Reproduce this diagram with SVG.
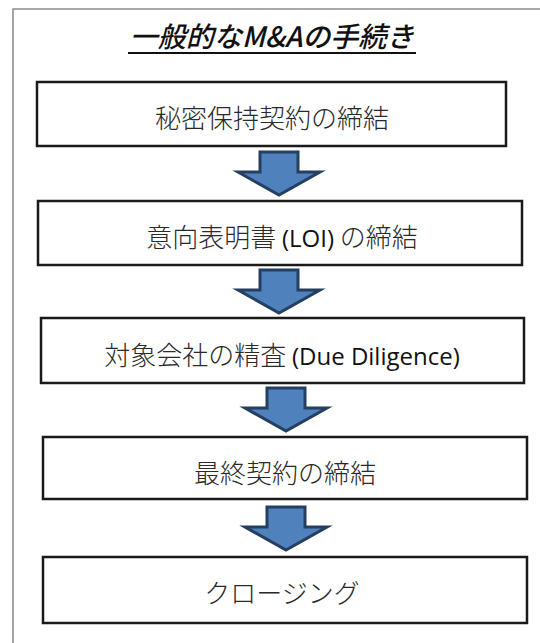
<svg xmlns="http://www.w3.org/2000/svg" width="540" height="643" viewBox="0 0 540 643">
<style>
.frame{fill:#fff;stroke:#8a8a8a;stroke-width:1.5}
.box{fill:#fff;stroke:#1a1a1a;stroke-width:2.5}
.t{font-family:"Noto Sans CJK JP","Noto Sans",sans-serif;font-size:26px;fill:#2a2a2a;text-anchor:middle;font-weight:300}
.lat{font-family:"Open Sans","Noto Sans",sans-serif;font-size:24px;fill:#111;font-weight:500}
.title{font-family:"Noto Sans CJK JP","Noto Sans",sans-serif;font-size:28px;font-style:italic;font-weight:500;fill:#111;text-anchor:middle}
.arrow{fill:#4f81bd;stroke:#243f60;stroke-width:3;stroke-linejoin:miter}
</style>
<defs>
<path id="arr" class="arrow" d="M-19,0 H19 V20 H41 L0,43 L-41,20 H-19 Z"/>
</defs>
<rect class="frame" x="13" y="9" width="540" height="650"/>
<g id="title">
<text class="title" x="272" y="47">一般的なM&amp;Aの手続き</text>
<line x1="128" y1="53" x2="416" y2="53" stroke="#111" stroke-width="2"/>
</g>
<g id="connectors">
<use href="#arr" x="279" y="152"/>
<use href="#arr" x="279" y="270"/>
<use href="#arr" x="286" y="388"/>
<use href="#arr" x="286" y="507"/>
</g>
<g id="n1">
<rect class="box" x="37" y="82" width="469" height="64"/>
<text class="t" x="272" y="128">秘密保持契約の締結</text>
</g>
<g id="n2">
<rect class="box" x="38" y="201" width="484" height="64"/>
<text class="t" x="282" y="247">意向表明書 <tspan class="lat">(LOI)</tspan> の締結</text>
</g>
<g id="n3">
<rect class="box" x="41" y="318" width="483" height="65"/>
<text class="t" x="282" y="365">対象会社の精査 <tspan class="lat">(Due Diligence)</tspan></text>
</g>
<g id="n4">
<rect class="box" x="43" y="437" width="484" height="62"/>
<text class="t" x="285" y="483">最終契約の締結</text>
</g>
<g id="n5">
<rect class="box" x="43" y="557" width="484" height="66"/>
<text class="t" x="282" y="603">クロージング</text>
</g>
</svg>
